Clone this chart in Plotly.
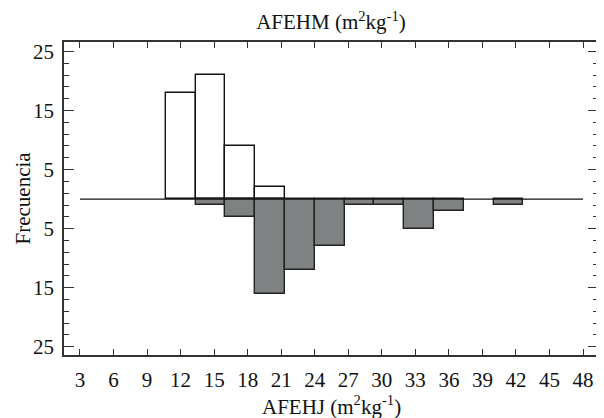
import plotly.graph_objects as go

# Data
bin_width = 8 / 3
bin_centers = [12.0, 14.6667, 17.3333, 20.0, 22.6667, 25.3333, 28.0, 30.6667, 33.3333, 36.0, 38.6667, 41.3333]
afehm_counts = [18, 21, 9, 2, 0, 0, 0, 0, 0, 0, 0, 0]
afehj_counts = [0, 1, 3, 16, 12, 8, 1, 1, 5, 2, 0, 1]

x_ticks = [3, 6, 9, 12, 15, 18, 21, 24, 27, 30, 33, 36, 39, 42, 45, 48]
x_ticklabels = [str(v) for v in x_ticks]
y_tickvals = [-25, -15, -5, 5, 15, 25]
y_ticklabels = ["25", "15", "5", "5", "15", "25"]

FONT = "'Liberation Serif', 'DejaVu Serif', serif"

fig = go.Figure()

fig.add_trace(go.Bar(
    x=bin_centers, y=[c if c else None for c in afehm_counts], width=bin_width,
    marker=dict(color="white", line=dict(color="#111111", width=1.4)),
    showlegend=False,
))
fig.add_trace(go.Bar(
    x=bin_centers, y=[-c if c else None for c in afehj_counts], width=bin_width,
    marker=dict(color="#7f8282", line=dict(color="#222222", width=1.4)),
    showlegend=False,
))
# zero baseline across the tick range
fig.add_trace(go.Scatter(
    x=[min(x_ticks), max(x_ticks)], y=[0, 0], mode="lines",
    line=dict(color="#111111", width=1.4), showlegend=False, hoverinfo="skip",
))

W, H = 596, 410  # page body adds an 8px offset
fig.update_layout(
    width=W, height=H,
    margin=dict(l=56, r=4, t=34, b=63),
    paper_bgcolor="white", plot_bgcolor="white",
    barmode="overlay", bargap=0,
    font=dict(family=FONT, size=20, color="#111111"),
    title=dict(text="AFEHM (m<sup>2</sup>kg<sup>-1</sup>)", x=0.5, xref="paper",
               y=1 - 14 / H, yref="container", yanchor="middle",
               font=dict(family=FONT, size=21, color="#111111")),
)

fig.update_xaxes(
    range=[1.57, 49.34], tickvals=x_ticks, ticktext=x_ticklabels,
    ticks="inside", ticklen=6, tickwidth=1.2, tickcolor="#333333",
    showline=True, linecolor="#333333", linewidth=1.5, mirror="ticks",
    showgrid=False, zeroline=False, ticklabelstandoff=5,
    tickfont=dict(family=FONT, size=21),
)
fig.update_yaxes(
    range=[-26.4, 26.6], tickvals=y_tickvals, ticktext=y_ticklabels,
    ticks="inside", ticklen=10, tickwidth=1.2, tickcolor="#333333",
    minor=dict(tickmode="linear", tick0=1, dtick=2, ticks="inside", ticklen=5,
               tickcolor="#333333", tickwidth=1.2),
    showline=True, linecolor="#333333", linewidth=1.5, mirror="allticks",
    showgrid=False, zeroline=False, ticklabelstandoff=4,
    tickfont=dict(family=FONT, size=21),
)

fig.add_annotation(text="AFEHJ (m<sup>2</sup>kg<sup>-1</sup>)", xref="paper", yref="paper",
                   x=0.5, y=0, yshift=-50, yanchor="middle", showarrow=False,
                   font=dict(family=FONT, size=21, color="#111111"))
fig.add_annotation(text="Frecuencia", xref="paper", yref="paper",
                   x=0, y=0.5, xshift=-42, xanchor="center", yanchor="middle",
                   textangle=-90, showarrow=False,
                   font=dict(family=FONT, size=21, color="#111111"))

fig.write_html("out.html")
